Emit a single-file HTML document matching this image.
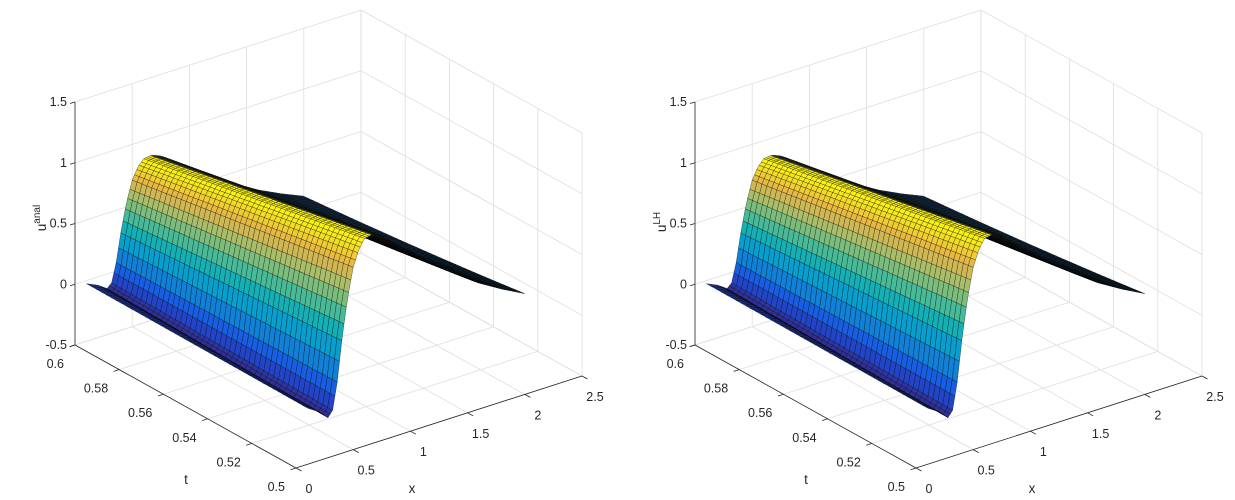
<!DOCTYPE html>
<html><head><meta charset="utf-8">
<style>
html,body{margin:0;padding:0;background:#fff;}
svg{display:block;font-family:"Liberation Sans",Arial,sans-serif;}
</style></head>
<body>
<svg id="fig" width="1235" height="500" viewBox="0 0 1235 500" xmlns="http://www.w3.org/2000/svg"></svg>
<script>
// ---- data ----
const xTicks = [0, 0.5, 1, 1.5, 2, 2.5];
const xTickLabels = ["0", "0.5", "1", "1.5", "2", "2.5"];
const tTicks = [0.5, 0.52, 0.54, 0.56, 0.58, 0.6];
const tTickLabels = ["0.5", "0.52", "0.54", "0.56", "0.58", "0.6"];
const zTicks = [-0.5, 0, 0.5, 1, 1.5];
const zTickLabels = ["-0.5", "0", "0.5", "1", "1.5"];
// wave profile along x (normalised to crest = 1)
const profileX = [0.1, 0.2, 0.28, 0.32, 0.36, 0.4, 0.45, 0.5, 0.55, 0.6, 0.67, 0.75, 0.85, 1.0, 1.2, 1.4, 1.6, 1.8, 2.0];
const profileU = [-0.03, -0.08, -0.14, -0.1, 0.08, 0.35, 0.62, 0.82, 0.93, 0.99, 1.0, 0.97, 0.9, 0.8, 0.67, 0.55, 0.44, 0.35, 0.27];
// crest amplitude and tail decay at t = 0.5 and t = 0.6
const ampT = [0.5, 0.6];
const ampV = [1.22, 0.86];
const decayV = [1.0, 1.18];
const panels = [{ox: 0, label: "anal"}, {ox: 620, label: "LH"}];

const NS = "http://www.w3.org/2000/svg";
const svg = document.getElementById('fig');
function mk(tag, attrs, parent) {
  const e = document.createElementNS(NS, tag);
  for (const k in attrs) e.setAttribute(k, attrs[k]);
  (parent || svg).appendChild(e);
  return e;
}
function interp(xa, ya, x) {
  if (x <= xa[0]) return ya[0];
  for (let i = 1; i < xa.length; i++) if (x <= xa[i]) {
    const f = (x - xa[i-1]) / (xa[i] - xa[i-1]); return ya[i-1] + f * (ya[i] - ya[i-1]);
  }
  return ya[ya.length-1];
}
const parula = [[53,42,135],[25,80,230],[18,125,216],[7,156,207],[21,177,180],[89,189,140],[165,190,107],[230,180,70],[249,240,20]];
function cmap(v) {
  v = Math.max(0, Math.min(1, v)) * (parula.length - 1);
  const i = Math.min(parula.length - 2, Math.floor(v)), f = v - i;
  return parula[i].map((a, k) => a + f * (parula[i+1][k] - a));
}
function rgb(c) { return `rgb(${Math.round(c[0])},${Math.round(c[1])},${Math.round(c[2])})`; }
function shapeF(x, t) {
  const f = interp(profileX, profileU, x);
  if (x <= 0.67) return f;
  const k = interp(ampT, decayV, t);
  return 1 - (1 - f) * k;
}

panels.forEach((p, pi) => {
  const g = mk('g', {}, svg);
  
  
  const P = (x, t, z) => [p.ox + 296 + 114.4 * x - 2210 * (t - 0.5), 468 - 36.8 * x - 1230 * (t - 0.5) - 121.5 * (z + 0.5)];
  const line = (a, b, col, w, name) => {
    const l = mk('line', {x1: a[0].toFixed(1), y1: a[1].toFixed(1), x2: b[0].toFixed(1), y2: b[1].toFixed(1), stroke: col, 'stroke-width': w}, g);
    
    
  };
  const gc = '#dedede';
  xTicks.forEach(x => line(P(x, 0.5, -0.5), P(x, 0.6, -0.5), gc, 0.8, 'floor-grid-x'));
  tTicks.forEach(t => line(P(0, t, -0.5), P(2.5, t, -0.5), gc, 0.8, 'floor-grid-t'));
  xTicks.forEach(x => line(P(x, 0.6, -0.5), P(x, 0.6, 1.5), gc, 0.8, 'back-wall-grid-x'));
  zTicks.forEach(z => line(P(0, 0.6, z), P(2.5, 0.6, z), gc, 0.8, 'back-wall-grid-z'));
  tTicks.forEach(t => line(P(2.5, t, -0.5), P(2.5, t, 1.5), gc, 0.8, 'side-wall-grid-t'));
  zTicks.forEach(z => line(P(2.5, 0.5, z), P(2.5, 0.6, z), gc, 0.8, 'side-wall-grid-z'));
  const ac = '#262626';
  line(P(0, 0.6, -0.5), P(0, 0.6, 1.5), ac, 0.8, 'z-axis');
  line(P(0, 0.5, -0.5), P(0, 0.6, -0.5), ac, 0.8, 't-axis');
  line(P(0, 0.5, -0.5), P(2.5, 0.5, -0.5), ac, 0.8, 'x-axis');

  // surface
  const sg = mk('g', {stroke: '#000', 'stroke-width': 0.35, 'stroke-opacity': 0.85}, g);
  
  
  const NX = 95, NT = 45, x0 = 0.1, x1 = 2.0;
  const amp = t => interp(ampT, ampV, t);
  const X = i => x0 + (x1 - x0) * i / NX, T = j => 0.5 + 0.1 * j / NT;
  const Z = (i, j) => amp(T(j)) * shapeF(X(i), T(j));
  const quads = [];
  for (let i = 0; i < NX; i++) for (let j = 0; j < NT; j++) {
    const xa = X(i), xb = X(i + 1), ta = T(j), tb = T(j + 1), tm = (ta + tb) / 2;
    const fa = shapeF(xa, tm), fb = shapeF(xb, tm);
    const fm = (fa + fb) / 2, slope = (fb - fa) / (xb - xa);
    const depth = 0.61 * ((xa + xb) / 5) + 0.79 * (tm - 0.5) / 0.1;
    quads.push({i, j, xa, xb, ta, tb, fm, slope, depth});
  }
  quads.sort((a, b) => b.depth - a.depth);
  quads.forEach(q => {
    const pts = [P(q.xa, q.ta, Z(q.i, q.j)), P(q.xb, q.ta, Z(q.i + 1, q.j)), P(q.xb, q.tb, Z(q.i + 1, q.j + 1)), P(q.xa, q.tb, Z(q.i, q.j + 1))];
    let c = cmap((q.fm + 0.15) / 1.12);
    if (q.slope < -0.05 && q.xa > 0.6) {
      const navy = [28, 42, 72];
      c = c.map((a, k) => navy[k] * 0.8 + a * 0.2);
    }
    const poly = mk('polygon', {points: pts.map(a => a[0].toFixed(1) + ',' + a[1].toFixed(1)).join(' '), fill: rgb(c)}, sg);
    
    
  });

  const txt = (s, x, y, anchor, name, size) => {
    const e = mk('text', {x: x.toFixed(1), y: y.toFixed(1), 'text-anchor': anchor, 'font-size': size || 12.5, fill: '#262626'}, g);
    e.textContent = s;
    
    
    return e;
  };
  zTicks.forEach((z, k) => {
    const a = P(0, 0.6, z);
    line(a, [a[0] - 5, a[1] + 1.5], ac, 0.8, 'z-tick');
    txt(zTickLabels[k], a[0] - 8, a[1] + 4, 'end', 'z-tick-label');
  });
  tTicks.forEach((t, k) => {
    const a = P(0, t, -0.5);
    line(a, [a[0] - 5.5, a[1] + 1.8], ac, 0.8, 't-tick');
    txt(tTickLabels[k], a[0] - 11, a[1] + 23, 'end', 't-tick-label');
  });
  xTicks.forEach((x, k) => {
    const a = P(x, 0.5, -0.5);
    line(a, [a[0] + 5.5, a[1] + 3], ac, 0.8, 'x-tick');
    txt(xTickLabels[k], a[0] + 13, a[1] + 25, 'middle', 'x-tick-label');
  });
  txt('t', p.ox + 186, 484, 'middle', 't-axis-title', 13.5);
  txt('x', p.ox + 412, 493, 'middle', 'x-axis-title', 13.5);
  const zl = mk('text', {transform: `translate(${p.ox + 46},${pi === 0 ? 218 : 222}) rotate(-90)`, 'text-anchor': 'middle', 'font-size': 13.5, fill: '#262626'}, g);
  
  
  const t1 = mk('tspan', {}, zl); t1.textContent = 'u';
  const t2 = mk('tspan', {dy: -6, 'font-size': 10}, zl); t2.textContent = p.label;
});
</script>
</body></html>
